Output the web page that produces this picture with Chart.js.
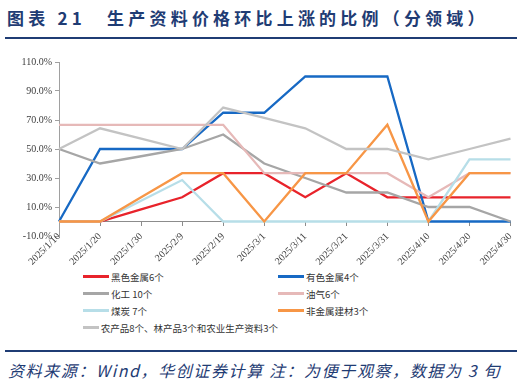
<!DOCTYPE html>
<html><head><meta charset="utf-8">
<script src="https://cdn.jsdelivr.net/npm/chart.js@4"></script>
<style>
body{margin:0;width:524px;height:384px;overflow:hidden;background:#fff;position:relative;font-family:"Noto Sans CJK SC",sans-serif;}
#title{position:absolute;left:7px;top:5px;font-size:17px;font-weight:bold;color:#1F3C74;letter-spacing:4.2px;white-space:nowrap;line-height:26px;}
.rule{position:absolute;left:5px;width:512px;height:2px;background:#1F3C74;}
#wrap{position:absolute;left:0;top:50px;width:524px;height:218px;}
#legend{position:absolute;left:83px;top:268px;display:grid;grid-template-columns:195px auto;grid-auto-rows:17px;font-size:9.5px;color:#333;}
.li{display:flex;align-items:center;white-space:nowrap;}
.sw{display:inline-block;width:26px;height:2.5px;margin-right:2px;}
#foot{position:absolute;left:8px;top:358px;font-size:16px;font-style:italic;color:#1F3C74;white-space:nowrap;line-height:24px;letter-spacing:1.6px;}
</style></head>
<body>
<div id="title">图表 21　生产资料价格环比上涨的比例（分领域）</div>
<div class="rule" style="top:37px"></div>
<div id="wrap"><canvas id="c" width="524" height="218"></canvas></div>
<div id="legend"></div>
<div class="rule" style="top:350px"></div>
<div id="foot">资料来源：Wind，华创证券计算 注：为便于观察，数据为 3 旬</div>
<script>
const categories = ['2025/1/10','2025/1/20','2025/1/30','2025/2/9','2025/2/19','2025/3/1','2025/3/11','2025/3/21','2025/3/31','2025/4/10','2025/4/20','2025/4/30'];
const seriesNames = ['黑色金属6个','有色金属4个','化工 10个','油气6个','煤炭 7个','非金属建材3个','农产品8个、林产品3个和农业生产资料3个'];
const ferrous    = [0,0,8.3,16.7,33.3,33.3,16.7,33.3,16.7,16.7,16.7,16.7];
const nonferrous = [0,50,50,50,75,75,100,100,100,0,0,0];
const chemical   = [50,40,45,50,60,40,30,20,20,10,10,0];
const oilgas     = [66.7,66.7,66.7,66.7,66.7,33.3,33.3,33.3,33.3,16.7,33.3,33.3];
const coal       = [0,0,14.3,28.6,0,0,0,0,0,0,42.9,42.9];
const building   = [0,0,16.7,33.3,33.3,0,33.3,33.3,66.7,0,33.3,33.3];
const agri       = [50,64.3,57.1,50,78.6,71.4,64.3,50,50,42.9,50,57.1];
const yTicks = [-10,10,30,50,70,90,110];
const colors = ['#E8232B','#1769C4','#A6A6A6','#E6B9B8','#B7DEE8','#F79646','#C3C3C3'];
const values = [ferrous,nonferrous,chemical,oilgas,coal,building,agri];

const datasets = values.map((v,i)=>({
  label: seriesNames[i], data: v, borderColor: colors[i], backgroundColor: colors[i],
  borderWidth: 2.3, pointRadius: 0, tension: 0, fill: false, order: 6 - i
}));

const axisFont = {family:'"Liberation Serif", serif', size:10};
const chart = new Chart(document.getElementById('c'), {
  type:'line',
  data:{labels:categories, datasets},
  options:{
    responsive:false, animation:false,
    layout:{padding:{top:12,bottom:32,left:0,right:13}},
    plugins:{legend:{display:false},tooltip:{enabled:false}},
    scales:{
      x:{type:'category', position:{y:0}, offset:false,
         grid:{display:true, drawOnChartArea:false, tickLength:4, color:'#8C8C8C'},
         border:{display:true, color:'#8C8C8C', width:1},
         ticks:{autoSkip:false, maxRotation:45, minRotation:45, font:axisFont, color:'#404040', padding:5}},
      y:{min:-10, max:110,
         afterBuildTicks(s){ s.ticks = yTicks.map(v=>({value:v})); },
         afterFit(s){ s.width = 59; },
         grid:{display:true, drawOnChartArea:false, tickLength:4, color:'#A0A0A0'},
         border:{display:true, color:'#A0A0A0', width:1},
         ticks:{font:axisFont, color:'#404040', padding:3, callback:v=>Number(v).toFixed(1)+'%'}}
    }
  }
});

const lg = document.getElementById('legend');
chart.data.datasets.forEach(ds=>{
  const d = document.createElement('div'); d.className='li';
  const s = document.createElement('span'); s.className='sw'; s.style.background = ds.borderColor;
  d.appendChild(s); d.appendChild(document.createTextNode(ds.label));
  lg.appendChild(d);
});
</script>
</body></html>
